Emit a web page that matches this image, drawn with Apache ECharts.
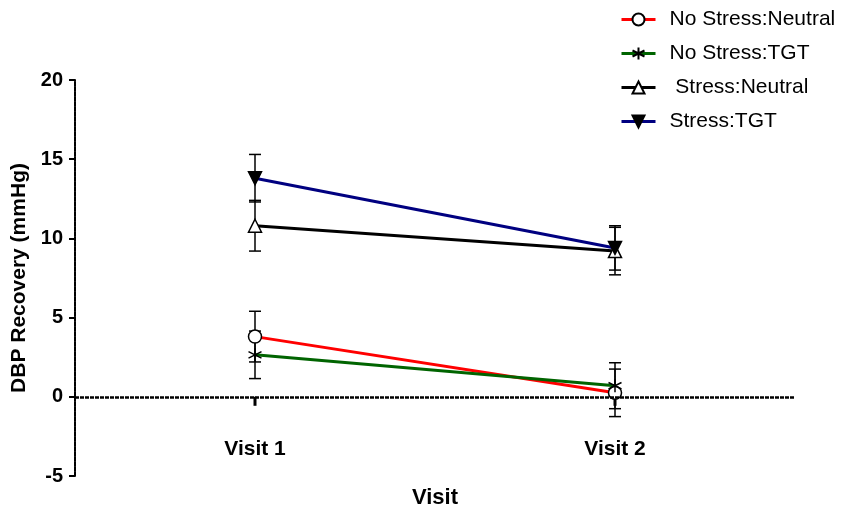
<!DOCTYPE html>
<html><head><meta charset="utf-8">
<script src="https://cdn.jsdelivr.net/npm/echarts@6/dist/echarts.min.js"></script>
<style>html,body{margin:0;padding:0;background:#fff}#c{width:854px;height:512px}</style>
</head><body><div id="c"></div>
<script>
const categories = ['Visit 1', 'Visit 2'];
const seriesNames = ['No Stress:Neutral', 'No Stress:TGT', ' Stress:Neutral', 'Stress:TGT'];
const noStressNeutral = [3.8, 0.25];
const noStressNeutralErr = [1.6, 1.5];
const noStressTGT = [2.65, 0.7];
const noStressTGTErr = [1.5, 1.45];
const stressNeutral = [10.8, 9.2];
const stressNeutralErr = [1.6, 1.5];
const stressTGT = [13.8, 9.4];
const stressTGTErr = [1.5, 1.4];
const yTicks = [-5, 0, 5, 10, 15, 20];
const baseline = 0;

const means = [noStressNeutral, noStressTGT, stressNeutral, stressTGT];
const errs = [noStressNeutralErr, noStressTGTErr, stressNeutralErr, stressTGTErr];
const lineColors = ['#ff0000', '#006400', '#000000', '#000080'];
const asterisk = 'path://M0,-10L0,10M-8.66,-5L8.66,5M-8.66,5L8.66,-5';
const symbols = ['circle', asterisk, 'triangle', 'triangle'];
const symbolFill = ['#ffffff', 'none', '#ffffff', '#000000'];
const symbolRot = [0, 0, 0, 180];
const symbolSizes = [13, 13, 13, 13];
const FONT = 'Liberation Sans, Arial, sans-serif';

const errData = [];
means.forEach((m, s) => m.forEach((v, i) => errData.push([i, v - errs[s][i], v + errs[s][i]])));

const series = [{
  type: 'custom',
  name: 'baselineTicks',
  data: categories.map((c, i) => [i, baseline]),
  z: 2,
  silent: true,
  renderItem: function (params, api) {
    const p = api.coord([api.value(0), api.value(1)]);
    return { type: 'line', shape: { x1: p[0], y1: p[1], x2: p[0], y2: p[1] + 9 },
      style: { stroke: '#000', lineWidth: 3 } };
  },
  markLine: {
    silent: true, symbol: 'none', label: { show: false },
    lineStyle: { color: '#000', width: 2.5, type: [4, 1] },
    data: [{ yAxis: baseline }]
  }
}, {
  type: 'custom',
  name: 'err',
  data: errData,
  z: 1,
  silent: true,
  renderItem: function (params, api) {
    const lo = api.coord([api.value(0), api.value(1)]);
    const hi = api.coord([api.value(0), api.value(2)]);
    const hw = 6;
    const st = { stroke: '#000', lineWidth: 1.5 };
    return { type: 'group', children: [
      { type: 'line', shape: { x1: lo[0], y1: lo[1], x2: hi[0], y2: hi[1] }, style: st },
      { type: 'line', shape: { x1: lo[0] - hw, y1: lo[1], x2: lo[0] + hw, y2: lo[1] }, style: st },
      { type: 'line', shape: { x1: hi[0] - hw, y1: hi[1], x2: hi[0] + hw, y2: hi[1] }, style: st }
    ]};
  }
}];
means.forEach((m, s) => series.push({
  type: 'line',
  name: seriesNames[s],
  data: m,
  z: 3,
  symbol: symbols[s],
  symbolSize: symbolSizes[s],
  symbolRotate: symbolRot[s],
  showAllSymbol: true,
  lineStyle: { color: lineColors[s], width: 3 },
  itemStyle: { color: symbolFill[s], borderColor: '#000', borderWidth: 1.5 },
  emphasis: { disabled: true }
}));

const chart = echarts.init(document.getElementById('c'), null, { renderer: 'canvas' });
chart.setOption({
  animation: false,
  backgroundColor: '#fff',
  grid: { left: 75, right: 59, top: 80, bottom: 36, outerBoundsMode: 'none', containLabel: false },
  legend: {
    data: seriesNames,
    orient: 'vertical',
    left: 615,
    top: 4,
    itemWidth: 34,
    itemHeight: 15,
    itemGap: 13,
    lineStyle: { width: 3 },
    textStyle: { fontFamily: FONT, fontSize: 21, color: '#000', padding: [0, 0, 0, 9] }
  },
  xAxis: {
    type: 'category',
    data: categories,
    boundaryGap: true,
    axisLine: { show: false, onZero: false },
    axisTick: { show: false },
    axisLabel: { margin: -37, fontFamily: FONT, fontWeight: 'bold', fontSize: 21, color: '#000' },
    name: 'Visit',
    nameLocation: 'middle',
    nameGap: 11,
    nameTextStyle: { fontFamily: FONT, fontWeight: 'bold', fontSize: 22, color: '#000' },
    splitLine: { show: false }
  },
  yAxis: {
    type: 'value',
    min: -5, max: 20, interval: 5,
    axisLine: { show: true, lineStyle: { color: '#000', width: 2, type: [4, 1] } },
    axisTick: { show: true, length: 6, lineStyle: { color: '#000', width: 2 } },
    axisLabel: { margin: 12, fontFamily: FONT, fontWeight: 'bold', fontSize: 20, color: '#000',
      formatter: v => yTicks.includes(v) ? String(v) : '' },
    splitLine: { show: false },
    name: 'DBP Recovery (mmHg)',
    nameLocation: 'middle',
    nameGap: 33,
    nameTextStyle: { fontFamily: FONT, fontWeight: 'bold', fontSize: 21, color: '#000' }
  },
  series: series
});
</script></body></html>
